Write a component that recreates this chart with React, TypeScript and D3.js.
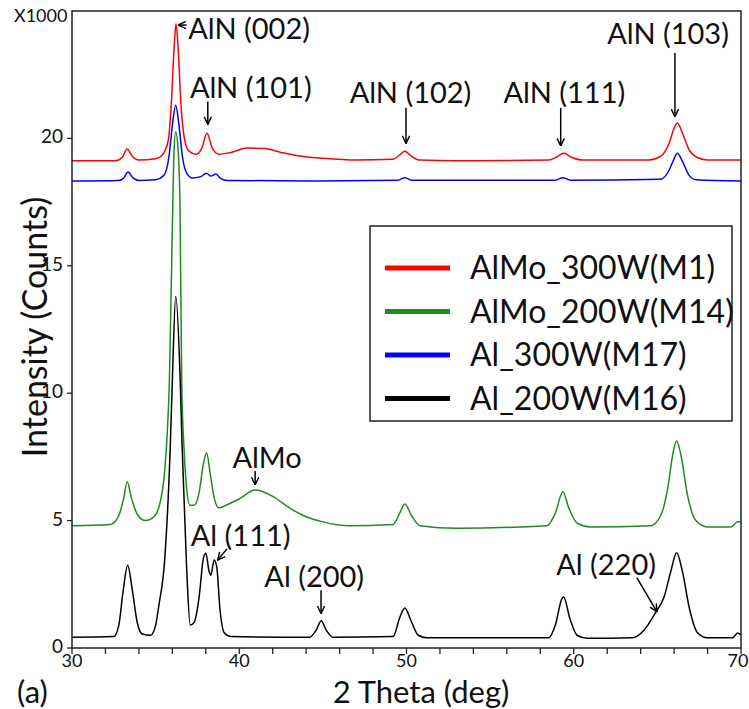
import React from 'react';
import * as d3 from 'd3';

// 2 theta (deg) vs intensity (x1000 counts)
const m1Points: [number, number][] = [
  [30, 19.12], [32.6, 19.12], [33.0, 19.25], [33.3, 19.58], [33.6, 19.3], [34.0, 19.15],
  [35.0, 19.2], [35.4, 19.35], [35.75, 19.9], [35.95, 21.5], [36.1, 23.5], [36.22, 24.5],
  [36.35, 23.5], [36.5, 21.5], [36.75, 19.9], [37.0, 19.5], [37.4, 19.38], [37.75, 19.6],
  [38.07, 20.2], [38.4, 19.6], [38.8, 19.38], [39.5, 19.45], [40.5, 19.62], [41.5, 19.6],
  [42.5, 19.45], [43.5, 19.32], [45, 19.22], [47, 19.15], [49.2, 19.18], [49.6, 19.35],
  [49.9, 19.5], [50.3, 19.3], [50.8, 19.15], [53, 19.12], [58.5, 19.15], [59.0, 19.28],
  [59.4, 19.42], [59.9, 19.25], [60.5, 19.15], [64.5, 19.15], [65.2, 19.3], [65.7, 19.8],
  [66.0, 20.4], [66.2, 20.6], [66.5, 20.2], [66.9, 19.55], [67.4, 19.25], [68, 19.15], [70, 19.15],
];

const m14Points: [number, number][] = [
  [30, 4.8], [32.3, 4.85], [32.8, 5.2], [33.1, 5.9], [33.3, 6.52], [33.55, 5.9], [33.9, 5.25],
  [34.4, 5.0], [34.9, 5.15], [35.3, 5.8], [35.55, 7.0], [35.7, 8.5], [35.82, 10.4],
  [36.02, 17.2], [36.1, 19.5], [36.2, 20.25], [36.35, 19.5], [36.46, 17.2], [36.56, 10.4],
  [36.7, 7.8], [36.85, 6.3], [37.05, 5.6], [37.3, 5.6], [37.6, 6.1], [37.85, 7.2],
  [38.05, 7.66], [38.25, 6.9], [38.5, 5.9], [38.77, 5.5], [39.2, 5.6], [40.0, 5.85],
  [40.95, 6.2], [42.0, 5.95], [43.0, 5.5], [44.0, 5.15], [45.0, 4.95], [46.5, 4.8],
  [49.2, 4.85], [49.6, 5.3], [49.9, 5.65], [50.3, 5.2], [50.8, 4.8], [53, 4.7], [58.4, 4.8],
  [58.9, 5.3], [59.35, 6.13], [59.7, 5.5], [60.2, 4.9], [61, 4.75], [64.6, 4.8], [65.2, 5.2],
  [65.6, 6.2], [65.95, 7.7], [66.15, 8.12], [66.4, 7.6], [66.8, 6.0], [67.3, 5.0], [68, 4.75],
  [69.4, 4.75], [69.8, 4.95], [70, 4.95],
];

const m17Points: [number, number][] = [
  [30, 18.33], [32.8, 18.35], [33.1, 18.45], [33.35, 18.68], [33.65, 18.45], [34.0, 18.35],
  [35.0, 18.38], [35.5, 18.55], [35.8, 19.3], [36.0, 20.5], [36.2, 21.3], [36.4, 20.5],
  [36.6, 19.3], [36.85, 18.65], [37.2, 18.45], [37.7, 18.5], [38.05, 18.63], [38.3, 18.52],
  [38.6, 18.6], [38.9, 18.42], [39.3, 18.35], [44, 18.33], [49.5, 18.36], [49.9, 18.46],
  [50.3, 18.36], [58.9, 18.36], [59.35, 18.46], [59.8, 18.36], [65.2, 18.4], [65.7, 18.75],
  [66.0, 19.2], [66.2, 19.42], [66.5, 19.1], [66.9, 18.55], [67.3, 18.38], [70, 18.33],
];

const m16Points: [number, number][] = [
  [30, 0.42], [32.5, 0.45], [32.8, 0.9], [33.05, 2.2], [33.33, 3.25], [33.6, 2.3], [33.9, 1.0],
  [34.2, 0.55], [34.7, 0.5], [35.0, 0.9], [35.2, 1.7], [35.54, 3.45], [35.88, 8], [36.0, 10.5],
  [36.2, 13.8], [36.47, 10.5], [36.58, 8], [36.85, 3.2], [37.07, 0.9], [37.3, 1.0], [37.6, 2.0],
  [37.85, 3.5], [38.0, 3.72], [38.2, 3.0], [38.3, 2.86], [38.5, 3.45], [38.65, 3.2],
  [38.85, 1.5], [39.1, 0.6], [39.5, 0.45], [44.2, 0.42], [44.6, 0.7], [44.9, 1.07], [45.2, 0.7],
  [45.6, 0.42], [49.2, 0.45], [49.6, 1.2], [49.9, 1.57], [50.25, 1.1], [50.7, 0.5], [51.2, 0.4],
  [58.5, 0.4], [58.9, 0.9], [59.3, 1.95], [59.4, 2.0], [59.75, 1.2], [60.2, 0.5], [60.8, 0.38],
  [63.5, 0.4], [64.2, 0.7], [64.9, 1.4], [65.4, 2.0], [65.8, 3.0], [66.15, 3.74], [66.5, 3.0],
  [66.9, 1.6], [67.4, 0.6], [68, 0.4], [69.5, 0.4], [69.8, 0.59], [70, 0.5],
];

const seriesNames = ['AlMo_300W(M1)', 'AlMo_200W(M14)', 'Al_300W(M17)', 'Al_200W(M16)'];
const seriesColors = ['#ff0000', '#1e8c1e', '#0000ff', '#000000'];

const xTicks = [30, 40, 50, 60, 70];
const xMinorTicks = d3.range(30, 71, 2);
const yTicks = [0, 5, 10, 15, 20];

const font = 'Lato, "Open Sans", sans-serif';

export default function App() {
  const width = 749;
  const height = 709;

  const x = d3.scaleLinear().domain([30, 70]).range([72, 741]);
  const y = d3.scaleLinear().domain([0, 25]).range([648, 11]);

  const line = d3.line<[number, number]>()
    .x(d => x(d[0]))
    .y(d => y(d[1]))
    .curve(d3.curveMonotoneX);

  // drawing order: red, blue, green, black (black ends on top)
  const drawn = [
    { pts: m1Points, color: seriesColors[0] },
    { pts: m17Points, color: seriesColors[2] },
    { pts: m14Points, color: seriesColors[1] },
    { pts: m16Points, color: seriesColors[3] },
  ];

  // annotation: text anchor (theta, value) and arrow tail -> tip in data space
  const notes = [
    { t: 'AlN (002)', tx: 36.95, ty: 23.9, a: [[36.85, 24.45], [36.35, 24.45]] },
    { t: 'AlN (101)', tx: 37.05, ty: 21.6, a: [[38.12, 21.45], [38.12, 20.55]] },
    { t: 'AlN (102)', tx: 46.6, ty: 21.4, a: [[49.97, 21.2], [49.97, 19.8]] },
    { t: 'AlN (111)', tx: 55.8, ty: 21.4, a: [[59.22, 21.2], [59.22, 19.7]] },
    { t: 'AlN (103)', tx: 62.0, ty: 23.7, a: [[66.05, 23.35], [66.05, 20.85]] },
    { t: 'AlMo', tx: 39.6, ty: 7.07, a: [[40.95, 6.95], [40.95, 6.4]] },
    { t: 'Al (111)', tx: 37.1, ty: 4.0, a: [[39.27, 3.89], [38.7, 3.45]] },
    { t: 'Al (200)', tx: 41.5, ty: 2.38, a: [[44.89, 2.27], [44.89, 1.35]] },
    { t: 'Al (220)', tx: 58.95, ty: 2.86, a: [[63.78, 2.75], [64.98, 1.42]] },
  ];

  return (
    <svg width={width} height={height} style={{ position: 'absolute', left: 0, top: 0, background: '#fff' }}>
      <defs>
        <marker id="arr" viewBox="0 0 10 10" refX="9.5" refY="5" markerWidth="9" markerHeight="9"
          markerUnits="userSpaceOnUse" orient="auto">
          <path d="M1,1 L9.5,5 L1,9" fill="none" stroke="#000" strokeWidth="1.6" />
        </marker>
      </defs>

      {/* curves */}
      <g>
        {drawn.map((s, i) => (
          <path key={i} d={line(s.pts) ?? ''} fill="none" stroke={s.color} strokeWidth={1.5} />
        ))}
      </g>

      {/* frame */}
      <rect x={x(30)} y={y(25)} width={x(70) - x(30)} height={y(0) - y(25)}
        fill="none" stroke="#222" strokeWidth={1.5} />

      {/* x axis ticks */}
      {xMinorTicks.map(t => (
        <line key={'xm' + t} x1={x(t)} x2={x(t)} y1={y(0)} y2={y(0) + 6} stroke="#222" strokeWidth={1.3} />
      ))}
      {xTicks.map(t => (
        <text key={'xt' + t} x={Math.min(x(t), width - 11)} y={y(0) + 19} textAnchor="middle"
          fontFamily={font} fontSize={18} fill="#111">
          {t}
        </text>
      ))}

      {/* y axis ticks */}
      {yTicks.map(t => (
        <g key={'yt' + t}>
          <line x1={x(30) - 5} x2={x(30)} y1={y(t)} y2={y(t)} stroke="#222" strokeWidth={1.3} />
          <text x={x(30) - 9} y={y(t) + 5} textAnchor="end" fontFamily={font} fontSize={19} fill="#111">
            {t}
          </text>
        </g>
      ))}
      <text x={14} y={22} fontFamily={font} fontSize={18} fill="#111">X1000</text>

      {/* axis titles */}
      <text x={421} y={703} textAnchor="middle" fontFamily={font} fontSize={31} fill="#111">2 Theta (deg)</text>
      <text x={17} y={703} fontFamily={font} fontSize={31} fill="#111">(a)</text>
      <text transform={`translate(47,${y(12.6)}) rotate(-90)`} textAnchor="middle" fontFamily={font}
        fontSize={34} fill="#111">Intensity (Counts)</text>

      {/* peak labels */}
      {notes.map((n, i) => (
        <g key={'n' + i}>
          <text x={x(n.tx)} y={y(n.ty)} fontFamily={font} fontSize={29} fill="#111">{n.t}</text>
          <line x1={x(n.a[0][0])} y1={y(n.a[0][1])} x2={x(n.a[1][0])} y2={y(n.a[1][1])}
            stroke="#000" strokeWidth={1.5} markerEnd="url(#arr)" />
        </g>
      ))}

      {/* legend */}
      <g>
        <rect x={370} y={226} width={362} height={195} fill="#fff" stroke="#222" strokeWidth={1.5} />
        {seriesNames.map((name, i) => (
          <g key={name} transform={`translate(0,${268 + i * 43.5})`}>
            <line x1={385} x2={450} y1={0} y2={0} stroke={seriesColors[i]} strokeWidth={5} />
            <text x={470} y={11} fontFamily={font} fontSize={32} fill="#111">{name}</text>
          </g>
        ))}
      </g>
    </svg>
  );
}
